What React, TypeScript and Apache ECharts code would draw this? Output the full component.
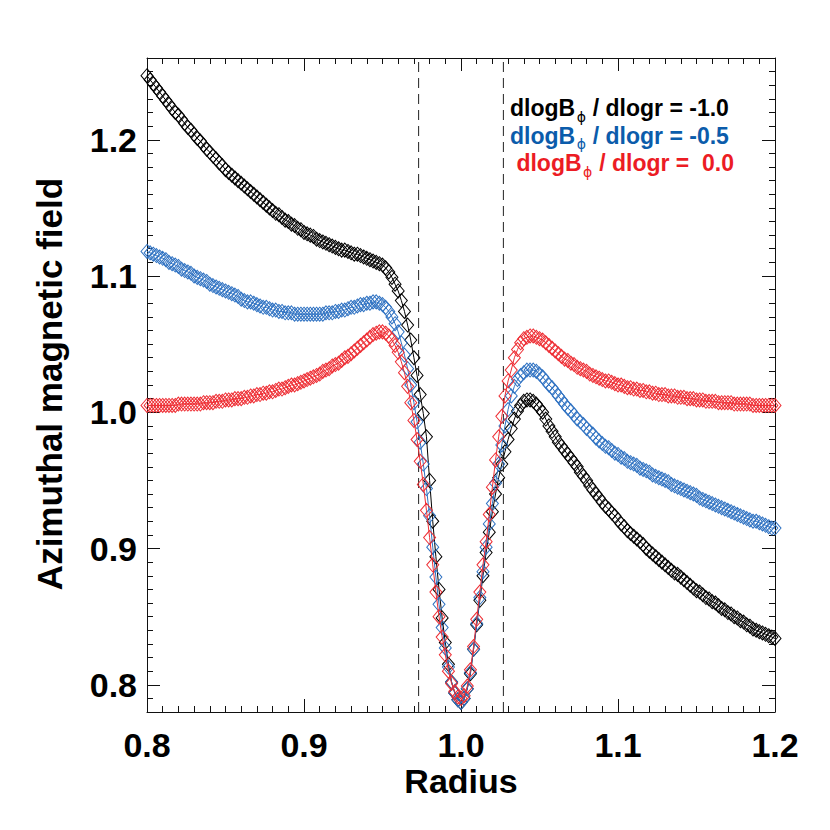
import React, { useEffect, useRef } from "react";
import * as echarts from "echarts";

// Radius sampling grid of the plotted points
const RADIUS_MIN = 0.8;
const RADIUS_STEP = 0.002;

// Azimuthal magnetic field, dlogB/dlogr = -1.0 (black)
const fieldSlopeM10 = [
  1.247, 1.244, 1.241, 1.238, 1.235, 1.232, 1.229, 1.226, 1.223, 1.220,
  1.218, 1.215, 1.212, 1.209, 1.207, 1.204, 1.201, 1.199, 1.196, 1.193,
  1.191, 1.188, 1.186, 1.183, 1.181, 1.178, 1.176, 1.174, 1.172, 1.170,
  1.168, 1.166, 1.164, 1.162, 1.160, 1.158, 1.156, 1.154, 1.152, 1.150,
  1.148, 1.146, 1.145, 1.143, 1.141, 1.140, 1.138, 1.137, 1.135, 1.134,
  1.132, 1.131, 1.130, 1.129, 1.127, 1.126, 1.125, 1.124, 1.123, 1.122,
  1.121, 1.120, 1.119, 1.119, 1.118, 1.117, 1.116, 1.116, 1.115, 1.114,
  1.113, 1.112, 1.111, 1.110, 1.109, 1.108, 1.106, 1.103, 1.099, 1.094,
  1.089, 1.082, 1.074, 1.064, 1.053, 1.040, 1.027, 1.013, 0.999, 0.982,
  0.950, 0.920, 0.894, 0.870, 0.849, 0.831, 0.815, 0.802, 0.794, 0.789,
  0.787, 0.790, 0.797, 0.808, 0.826, 0.844, 0.862, 0.880, 0.897, 0.912,
  0.927, 0.940, 0.952, 0.962, 0.971, 0.980, 0.988, 0.995, 1.001, 1.005,
  1.008, 1.009, 1.009, 1.008, 1.006, 1.003, 1.000, 0.995, 0.990, 0.986,
  0.982, 0.978, 0.975, 0.972, 0.969, 0.966, 0.963, 0.960, 0.956, 0.953,
  0.950, 0.946, 0.943, 0.940, 0.937, 0.934, 0.931, 0.929, 0.926, 0.924,
  0.921, 0.918, 0.916, 0.913, 0.911, 0.909, 0.907, 0.905, 0.903, 0.900,
  0.898, 0.896, 0.894, 0.892, 0.890, 0.888, 0.886, 0.884, 0.882, 0.881,
  0.879, 0.877, 0.875, 0.873, 0.871, 0.869, 0.868, 0.866, 0.864, 0.863,
  0.861, 0.860, 0.858, 0.856, 0.855, 0.853, 0.852, 0.850, 0.849, 0.847,
  0.846, 0.844, 0.843, 0.841, 0.840, 0.839, 0.838, 0.837, 0.836, 0.835,
  0.834,
];

// dlogB/dlogr = -0.5 (blue)
const fieldSlopeM05 = [
  1.118, 1.117, 1.116, 1.115, 1.114, 1.113, 1.112, 1.110, 1.109, 1.108,
  1.107, 1.105, 1.104, 1.103, 1.102, 1.100, 1.099, 1.098, 1.097, 1.096,
  1.094, 1.093, 1.092, 1.091, 1.090, 1.089, 1.088, 1.087, 1.086, 1.085,
  1.083, 1.082, 1.081, 1.081, 1.080, 1.079, 1.078, 1.077, 1.077, 1.076,
  1.075, 1.075, 1.074, 1.074, 1.073, 1.073, 1.073, 1.072, 1.072, 1.072,
  1.072, 1.072, 1.072, 1.072, 1.072, 1.072, 1.072, 1.073, 1.073, 1.073,
  1.074, 1.074, 1.075, 1.075, 1.076, 1.077, 1.077, 1.078, 1.079, 1.079,
  1.080, 1.080, 1.081, 1.081, 1.080, 1.079, 1.077, 1.074, 1.070, 1.065,
  1.059, 1.051, 1.042, 1.032, 1.020, 1.007, 0.993, 0.978, 0.962, 0.944,
  0.924, 0.901, 0.879, 0.859, 0.842, 0.827, 0.813, 0.802, 0.794, 0.789,
  0.787, 0.790, 0.797, 0.809, 0.826, 0.845, 0.864, 0.883, 0.901, 0.918,
  0.933, 0.948, 0.962, 0.976, 0.990, 1.002, 1.012, 1.019, 1.024, 1.027,
  1.029, 1.031, 1.031, 1.031, 1.030, 1.028, 1.026, 1.023, 1.020, 1.018,
  1.015, 1.012, 1.009, 1.006, 1.003, 1.001, 0.998, 0.995, 0.993, 0.991,
  0.988, 0.986, 0.984, 0.981, 0.979, 0.977, 0.975, 0.974, 0.972, 0.970,
  0.969, 0.967, 0.966, 0.964, 0.963, 0.962, 0.961, 0.959, 0.958, 0.957,
  0.956, 0.954, 0.953, 0.952, 0.951, 0.950, 0.949, 0.947, 0.946, 0.945,
  0.944, 0.943, 0.942, 0.941, 0.940, 0.939, 0.937, 0.936, 0.935, 0.934,
  0.933, 0.932, 0.931, 0.930, 0.929, 0.928, 0.927, 0.926, 0.925, 0.924,
  0.923, 0.922, 0.921, 0.920, 0.920, 0.919, 0.918, 0.917, 0.916, 0.915,
  0.915,
];

// dlogB/dlogr = 0.0 (red)
const fieldSlope00 = [
  1.005, 1.005, 1.005, 1.005, 1.005, 1.005, 1.005, 1.005, 1.005, 1.005,
  1.006, 1.006, 1.006, 1.006, 1.006, 1.006, 1.006, 1.006, 1.007, 1.007,
  1.007, 1.007, 1.008, 1.008, 1.008, 1.009, 1.009, 1.009, 1.010, 1.010,
  1.010, 1.011, 1.011, 1.012, 1.012, 1.013, 1.013, 1.014, 1.014, 1.015,
  1.015, 1.016, 1.017, 1.017, 1.018, 1.019, 1.020, 1.020, 1.021, 1.022,
  1.023, 1.024, 1.025, 1.026, 1.027, 1.028, 1.030, 1.031, 1.032, 1.034,
  1.035, 1.036, 1.038, 1.040, 1.041, 1.043, 1.045, 1.047, 1.049, 1.051,
  1.053, 1.055, 1.057, 1.058, 1.059, 1.059, 1.058, 1.056, 1.053, 1.049,
  1.044, 1.037, 1.029, 1.019, 1.007, 0.994, 0.980, 0.964, 0.947, 0.928,
  0.908, 0.888, 0.868, 0.850, 0.835, 0.822, 0.810, 0.801, 0.795, 0.791,
  0.790, 0.792, 0.799, 0.811, 0.828, 0.848, 0.868, 0.888, 0.905, 0.925,
  0.945, 0.965, 0.982, 0.997, 1.012, 1.023, 1.031, 1.040, 1.046, 1.051,
  1.054, 1.055, 1.056, 1.056, 1.055, 1.054, 1.053, 1.051, 1.049, 1.047,
  1.045, 1.043, 1.041, 1.039, 1.038, 1.036, 1.035, 1.033, 1.032, 1.031,
  1.030, 1.028, 1.027, 1.026, 1.025, 1.024, 1.023, 1.023, 1.022, 1.021,
  1.020, 1.020, 1.019, 1.018, 1.018, 1.017, 1.017, 1.016, 1.016, 1.015,
  1.015, 1.014, 1.014, 1.013, 1.013, 1.013, 1.012, 1.012, 1.012, 1.011,
  1.011, 1.011, 1.010, 1.010, 1.010, 1.009, 1.009, 1.009, 1.008, 1.008,
  1.008, 1.008, 1.007, 1.007, 1.007, 1.007, 1.007, 1.006, 1.006, 1.006,
  1.006, 1.006, 1.006, 1.005, 1.005, 1.005, 1.005, 1.005, 1.005, 1.005,
  1.005,
];

const yTicks = [0.8, 0.9, 1.0, 1.1, 1.2];
const dashedRadii = [0.973, 1.027];

const seriesNames = ["dlogBϕ / dlogr = -1.0", "dlogBϕ / dlogr = -0.5", "dlogBϕ / dlogr = 0.0"];
const legendValues = ["-1.0", "-0.5", "\u00a00.0"];
const markerColors = ["#000000", "#2f72c2", "#ee2d33"];
const textColors = ["#000000", "#0b5cab", "#ec1c24"];

const FONT = "'Liberation Sans', Arial, Helvetica, sans-serif";

export default function App() {
  const ref = useRef<HTMLDivElement>(null);

  useEffect(() => {
    if (!ref.current) return;
    const chart = echarts.init(ref.current, undefined, { renderer: "svg" });

    const radius = fieldSlopeM10.map((_, i) => +(RADIUS_MIN + i * RADIUS_STEP).toFixed(3));
    const allSeries = [fieldSlopeM10, fieldSlopeM05, fieldSlope00];

    // measure legend text
    const cvs = document.createElement("canvas");
    const ctx = cvs.getContext("2d")!;
    ctx.font = "bold 23px 'Liberation Sans'";
    const wMain = ctx.measureText("dlogB").width;
    const wSpace = ctx.measureText(" ").width;
    ctx.font = "14px 'DejaVu Sans'";
    const wPhi = ctx.measureText("ϕ").width;

    const legendGraphics: any[] = [];
    [0, 1, 2].forEach((i) => {
      const y = 108 + i * 27.5;
      const x0 = 510 + (i === 2 ? wSpace : 0);
      legendGraphics.push({
        type: "text",
        x: x0,
        y,
        style: {
          text: "dlogB",
          fill: textColors[i],
          fontSize: 23,
          fontWeight: "bold",
          fontFamily: FONT,
          align: "left",
          verticalAlign: "middle",
        },
      });
      legendGraphics.push({
        type: "text",
        x: x0 + wMain + 1.5,
        y: y + 8.5,
        style: {
          text: "ϕ",
          fill: textColors[i],
          fontSize: 14,
          fontFamily: "'DejaVu Sans', sans-serif",
          align: "left",
          verticalAlign: "middle",
        },
      });
      legendGraphics.push({
        type: "text",
        x: x0 + wMain + 1.5 + wPhi + 0.5,
        y,
        style: {
          text: "\u00a0/\u00a0dlogr\u00a0=\u00a0" + legendValues[i],
          fill: textColors[i],
          fontSize: 23,
          fontWeight: "bold",
          fontFamily: FONT,
          align: "left",
          verticalAlign: "middle",
        },
      });
    });

    const tickLabelStyle = {
      fontSize: 34,
      fontWeight: "bold" as const,
      fontFamily: FONT,
      color: "#000",
    };
    const axisLineStyle = { color: "#111", width: 1 };
    const tickStyle = { color: "#111", width: 1 };

    const curveSeries = allSeries.map((vals, si) => ({
      name: seriesNames[si],
      type: "line",
      xAxisIndex: 0,
      yAxisIndex: 0,
      data: vals.map((v, i) => [radius[i], v]),
      symbol: "diamond",
      symbolSize: [12, 14],
      showSymbol: true,
      showAllSymbol: true,
      silent: true,
      itemStyle: { color: "rgba(0,0,0,0)", borderColor: markerColors[si], borderWidth: 1 },
      lineStyle: { color: markerColors[si], width: 1 },
      emphasis: { disabled: true },
      z: 3 + si,
    }));

    const dashedSeries = dashedRadii.map((r) => ({
      type: "line",
      xAxisIndex: 0,
      yAxisIndex: 0,
      data: [
        [r, 0.78],
        [r, 1.26],
      ],
      symbol: "none",
      silent: true,
      lineStyle: { color: "#222", width: 1, type: [10, 6] },
      emphasis: { disabled: true },
      z: 2,
    }));

    const option: any = {
      animation: false,
      backgroundColor: "#fff",
      grid: { left: 147, top: 58, width: 628, height: 654, containLabel: false },
      xAxis: [
        {
          type: "value",
          position: "bottom",
          min: 0.8,
          max: 1.2,
          interval: 0.1,
          axisLine: { show: true, onZero: false, lineStyle: axisLineStyle },
          axisTick: { show: true, inside: true, length: 13, lineStyle: tickStyle },
          minorTick: { show: true, splitNumber: 10, length: 6, lineStyle: tickStyle },
          splitLine: { show: false },
          minorSplitLine: { show: false },
          axisLabel: {
            ...tickLabelStyle,
            margin: 16,
            formatter: (v: number) => v.toFixed(1),
          },
        },
        {
          type: "value",
          position: "top",
          min: 0.8,
          max: 1.2,
          interval: 0.1,
          axisLine: { show: true, onZero: false, lineStyle: axisLineStyle },
          axisTick: { show: true, inside: true, length: 13, lineStyle: tickStyle },
          minorTick: { show: true, splitNumber: 10, length: 6, lineStyle: tickStyle },
          splitLine: { show: false },
          axisLabel: { show: false },
        },
      ],
      yAxis: [
        {
          type: "value",
          position: "left",
          min: 0.78,
          max: 1.26,
          axisLine: { show: true, onZero: false, lineStyle: axisLineStyle },
          axisTick: { show: true, inside: true, length: 13, lineStyle: tickStyle, customValues: yTicks },
          splitLine: { show: false },
          axisLabel: {
            ...tickLabelStyle,
            margin: 10,
            customValues: yTicks,
            formatter: (v: number) => v.toFixed(1),
          },
        },
        {
          type: "value",
          position: "left",
          min: 0.78,
          max: 1.26,
          interval: 0.01,
          axisLine: { show: false, onZero: false },
          axisTick: { show: true, inside: true, length: 6, lineStyle: tickStyle },
          splitLine: { show: false },
          axisLabel: { show: false },
        },
        {
          type: "value",
          position: "right",
          min: 0.78,
          max: 1.26,
          axisLine: { show: true, onZero: false, lineStyle: axisLineStyle },
          axisTick: { show: true, inside: true, length: 13, lineStyle: tickStyle, customValues: yTicks },
          splitLine: { show: false },
          axisLabel: { show: false },
        },
        {
          type: "value",
          position: "right",
          min: 0.78,
          max: 1.26,
          interval: 0.01,
          axisLine: { show: false, onZero: false },
          axisTick: { show: true, inside: true, length: 6, lineStyle: tickStyle },
          splitLine: { show: false },
          axisLabel: { show: false },
        },
      ],
      series: [...dashedSeries, ...curveSeries],
      graphic: [
        ...legendGraphics,
        {
          type: "text",
          x: 461,
          y: 781,
          style: {
            text: "Radius",
            fill: "#000",
            fontSize: 34,
            fontWeight: "bold",
            fontFamily: FONT,
            align: "center",
            verticalAlign: "middle",
          },
        },
        {
          type: "text",
          x: 49,
          y: 384,
          rotation: Math.PI / 2,
          style: {
            text: "Azimuthal magnetic field",
            fill: "#000",
            fontSize: 35,
            fontWeight: "bold",
            fontFamily: FONT,
            align: "center",
            verticalAlign: "middle",
          },
        },
      ],
    };

    chart.setOption(option);
    return () => {
      chart.dispose();
    };
  }, []);

  return (
    <div
      ref={ref}
      style={{ position: "fixed", left: 0, top: 0, width: 830, height: 830, background: "#fff" }}
    />
  );
}
